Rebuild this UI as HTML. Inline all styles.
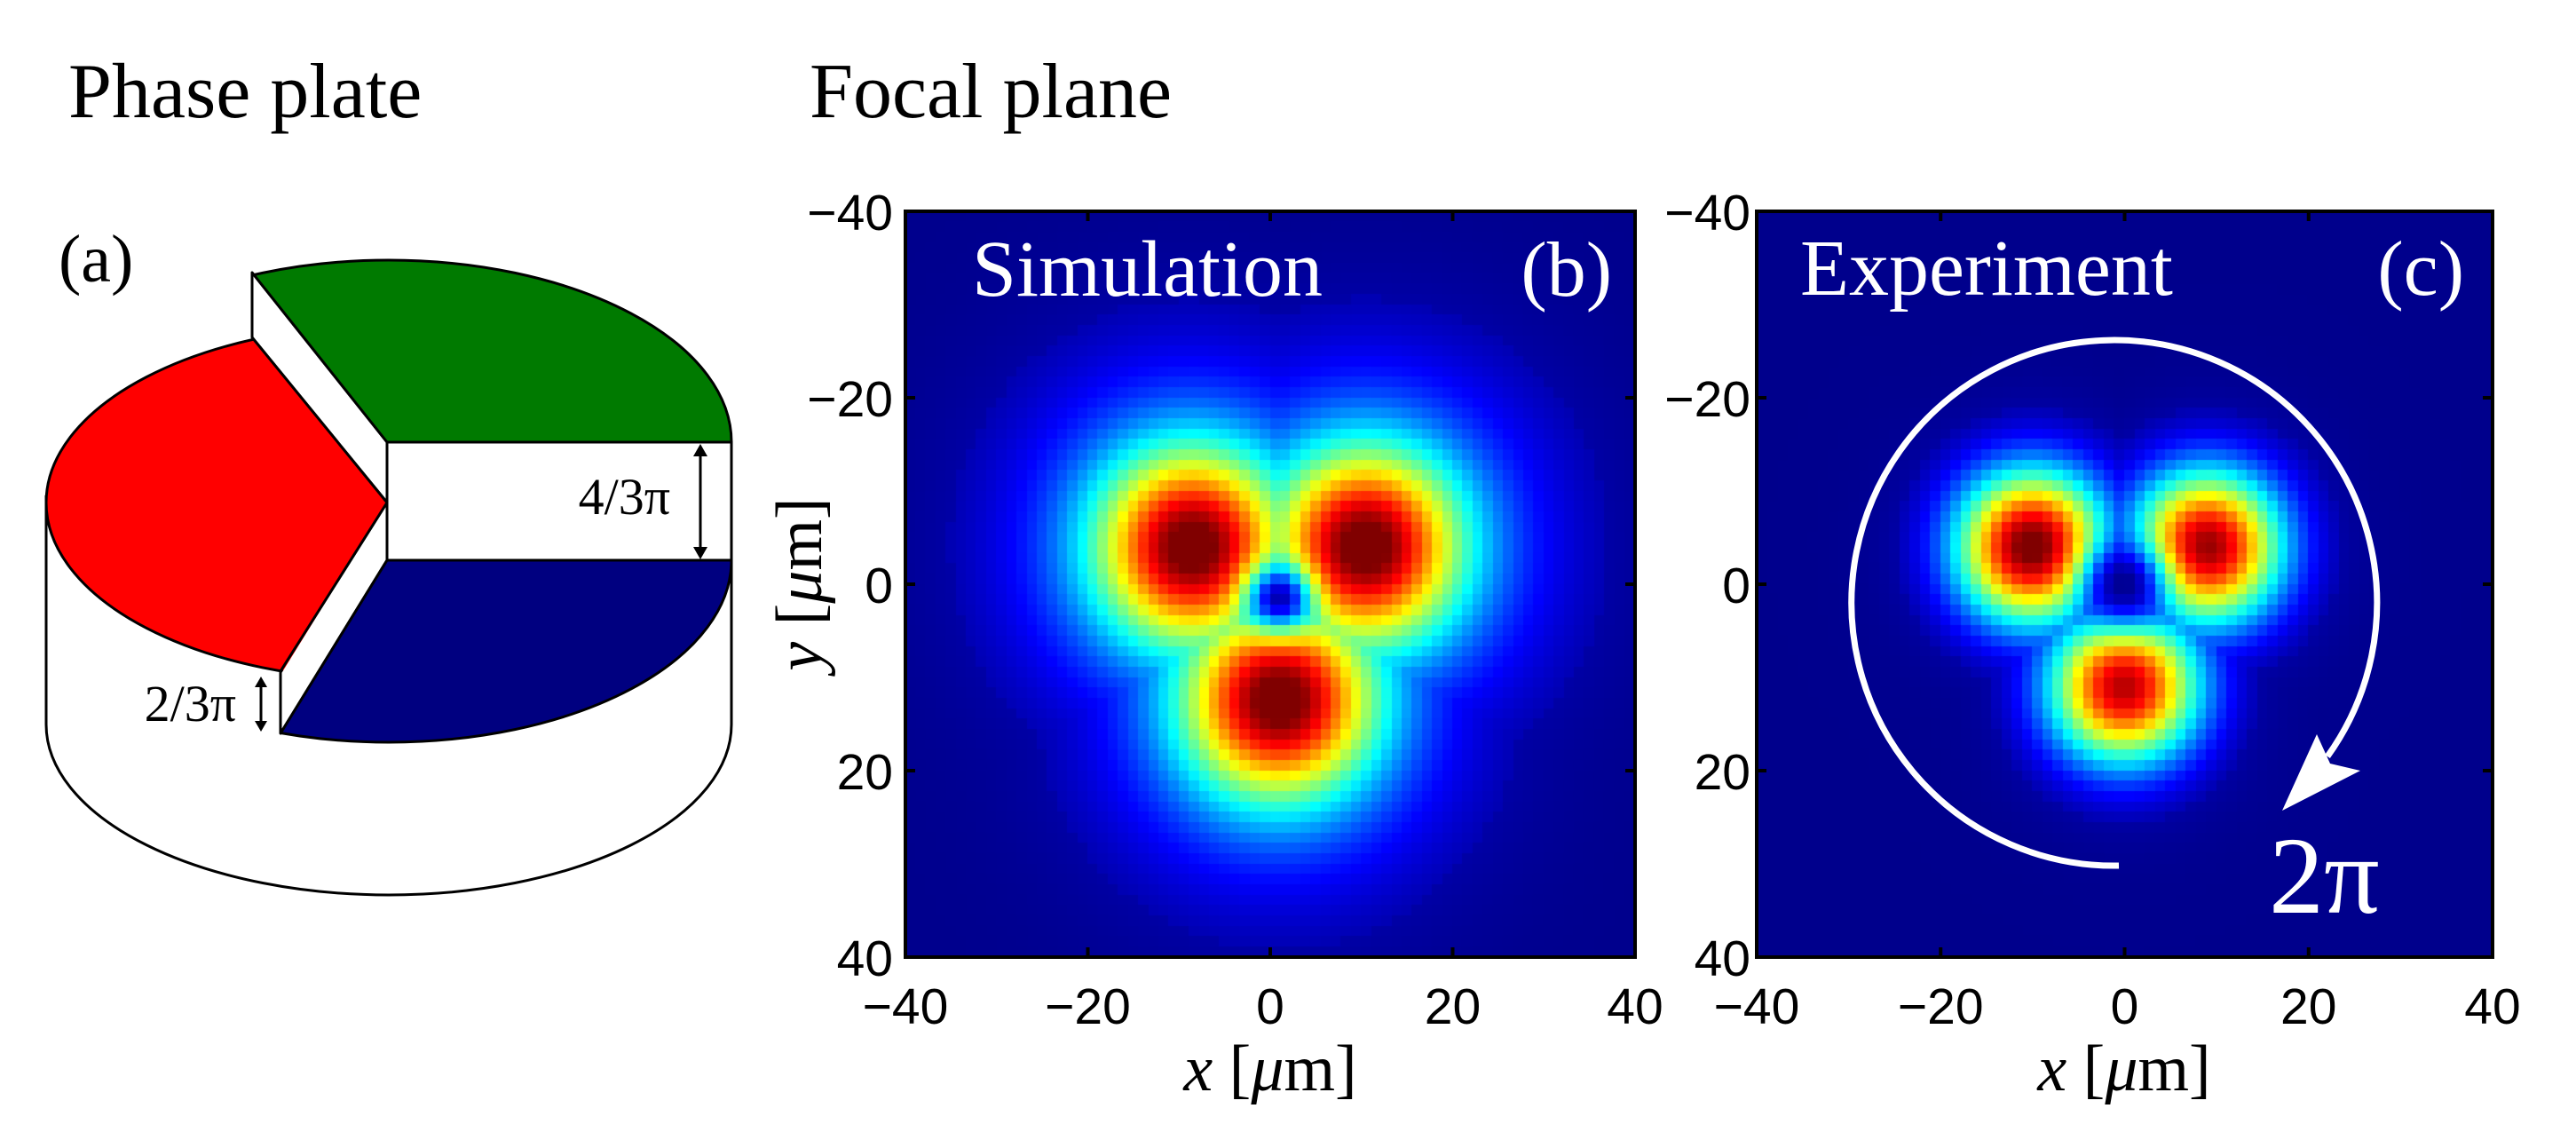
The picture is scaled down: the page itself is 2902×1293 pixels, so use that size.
<!DOCTYPE html>
<html><head><meta charset="utf-8">
<style>
html,body{margin:0;padding:0;background:#fff;}
body{width:2902px;height:1293px;position:relative;overflow:hidden;}
svg{position:absolute;left:0;top:0;}
canvas{position:absolute;}
</style></head>
<body>
<canvas id="simCanvas" width="822" height="840" style="left:1020px;top:238px;"></canvas>
<canvas id="expCanvas" width="829" height="840" style="left:1979px;top:238px;"></canvas>
<svg id="fig" width="2902" height="1293" viewBox="0 0 2902 1293">
  <defs>
    <clipPath id="clipGreen"><polygon points="436,498 900,498 900,0 39,0"/></clipPath>
    <clipPath id="clipRed"><polygon points="436,566 -22,0 -40,0 -40,1100 106,1100"/></clipPath>
    <clipPath id="clipBlue"><polygon points="436,631 900,631 900,1100 148,1100"/></clipPath>
  </defs>
  <text x="77" y="132" font-family="Liberation Serif, serif" font-size="88" fill="#000">Phase plate</text>
  <text x="912" y="132" font-family="Liberation Serif, serif" font-size="88" fill="#000">Focal plane</text>
  <text x="66" y="317" font-family="Liberation Serif, serif" font-size="76" fill="#000">(a)</text>

  <g stroke="#000" stroke-width="3" stroke-linejoin="round">
    <path d="M52,558 L52,816 A386,192 0 0 0 824,816 L824,631 Z" fill="#fff" stroke="none"/>
    <path d="M52,558 L52,816 A386,192 0 0 0 824,816 L824,631" fill="none"/>
    <path d="M284,307 L436,498 L436,566 L284,380 Z" fill="#fff"/>
    <path d="M436,566 L436,631 L316,826 L316,756 Z" fill="#fff"/>
    <rect x="436" y="498" width="388" height="133" fill="#fff"/>
    <ellipse cx="438" cy="498" rx="386" ry="205" fill="#007a00" clip-path="url(#clipGreen)"/>
    <path d="M436,498 L824,498 M436,498 L284,307" fill="none"/>
    <ellipse cx="438" cy="566" rx="386" ry="200" fill="#ff0000" clip-path="url(#clipRed)"/>
    <path d="M284,380 L436,566 L316,756" fill="none"/>
    <ellipse cx="438" cy="631" rx="386" ry="205" fill="#000080" clip-path="url(#clipBlue)"/>
    <path d="M824,631 L436,631 L316,826" fill="none"/>
  </g>
  <g>
    <line x1="789" y1="508" x2="789" y2="622" stroke="#000" stroke-width="3"/>
    <path d="M781,514 L789,500 L797,514 Z M781,616 L789,630 L797,616 Z" fill="#000"/>
    <text x="755" y="579" text-anchor="end" font-family="Liberation Serif, serif" font-size="58" fill="#000">4/3π</text>
  </g>
  <g>
    <line x1="294" y1="768" x2="294" y2="818" stroke="#000" stroke-width="3"/>
    <path d="M287,774 L294,762 L301,774 Z M287,812 L294,824 L301,812 Z" fill="#000"/>
    <text x="266" y="812" text-anchor="end" font-family="Liberation Serif, serif" font-size="58" fill="#000">2/3π</text>
  </g>

  <g id="axesB"></g>
  <g id="axesC"></g>

  <text x="1095" y="333" font-family="Liberation Serif, serif" font-size="90" fill="#fff">Simulation</text>
  <text x="1816" y="333" text-anchor="end" font-family="Liberation Serif, serif" font-size="88" fill="#fff">(b)</text>
  <text x="2028" y="332" font-family="Liberation Serif, serif" font-size="90" fill="#fff">Experiment</text>
  <text x="2776" y="332" text-anchor="end" font-family="Liberation Serif, serif" font-size="88" fill="#fff">(c)</text>

  <g>
    <path d="M2387,975 A296,296 0 1 1 2622,852" fill="none" stroke="#fff" stroke-width="7"/>
    <path d="M2571,913 L2610,827 L2625,860 L2659,868 Z" fill="#fff"/>
  </g>
  <text x="2556" y="1028" font-family="Liberation Serif, serif" font-size="124" fill="#fff">2π</text>

  <text x="1431" y="1228" text-anchor="middle" font-family="Liberation Serif, serif" font-size="74" fill="#000"><tspan font-style="italic">x</tspan> [<tspan font-style="italic">μ</tspan>m]</text>
  <text x="2393" y="1228" text-anchor="middle" font-family="Liberation Serif, serif" font-size="74" fill="#000"><tspan font-style="italic">x</tspan> [<tspan font-style="italic">μ</tspan>m]</text>
  <text transform="translate(925,658) rotate(-90)" text-anchor="middle" font-family="Liberation Serif, serif" font-size="74" fill="#000"><tspan font-style="italic">y</tspan> [<tspan font-style="italic">μ</tspan>m]</text>
</svg>
<script>
// ---- data ----
const xTicks = [-40, -20, 0, 20, 40];
const yTicks = [-40, -20, 0, 20, 40];
const tickLabels = ["\u221240", "\u221220", "0", "20", "40"];
// simulation lobes (µm, y increases downward) and peak intensities
const simLobeX = [-8.5, 10.5, 1];
const simLobeY = [-4, -4, 12.5];
const simLobeAmp = [1.0, 1.0, 1.0];
const simHole = [1, 1.5];
// experiment lobes
const expLobeX = [-10, 9, 0];
const expLobeY = [-4, -4, 11];
const expLobeAmp = [1.0, 0.95, 0.92];
const expHole = [0, 0];
const gridN = 72;

const NS = "http://www.w3.org/2000/svg";
function jet(v){
  v = Math.max(0, Math.min(1, v));
  function c(x){return Math.max(0, Math.min(1, x));}
  let r = c(1.5 - Math.abs(4*v - 3));
  let g = c(1.5 - Math.abs(4*v - 2));
  let b = c(1.5 - Math.abs(4*v - 1));
  if (v < 0.05) { b = 0.55 + v*2; }
  return "rgb(" + Math.round(r*255) + "," + Math.round(g*255) + "," + Math.round(b*255) + ")";
}
function simField(x, y){
  let m = 0;
  for (let i = 0; i < simLobeX.length; i++){
    const r2 = (x-simLobeX[i])**2 + (y-simLobeY[i])**2;
    const v = simLobeAmp[i]*(0.75*Math.exp(-r2/(2*49)) + 0.3*Math.exp(-r2/(2*196)));
    m = Math.max(m, v);
  }
  const h2 = (x-simHole[0])**2 + (y-simHole[1])**2;
  return m*(1 - 0.9*Math.exp(-h2/(2*2.4*2.4)));
}
function expField(x, y){
  let m = 0;
  for (let i = 0; i < expLobeX.length; i++){
    const r2 = (x-expLobeX[i])**2 + (y-expLobeY[i])**2;
    const v = expLobeAmp[i]*(0.95*Math.exp(-r2/(2*5.6*5.6)) + 0.08*Math.exp(-r2/(2*81)));
    m = Math.max(m, v);
  }
  const h2 = (x-expHole[0])**2 + (y-expHole[1])**2;
  return m*(1 - 0.95*Math.exp(-h2/(2*3*3)));
}
function drawHeat(canvas, field){
  const ctx = canvas.getContext("2d");
  const W = canvas.width, H = canvas.height;
  const sx = v => (v + 40) / 80 * W;
  const sy = v => (v + 40) / 80 * H;
  const step = 80 / gridN;
  for (let i = 0; i < gridN; i++){
    for (let j = 0; j < gridN; j++){
      const x = -40 + (i + 0.5) * step, y = -40 + (j + 0.5) * step;
      ctx.fillStyle = jet(field(x, y));
      const x0 = Math.floor(sx(-40 + i*step)), y0 = Math.floor(sy(-40 + j*step));
      ctx.fillRect(x0, y0, Math.ceil(sx(-40+(i+1)*step)) - x0 + 1, Math.ceil(sy(-40+(j+1)*step)) - y0 + 1);
    }
  }
}
drawHeat(document.getElementById("simCanvas"), simField);
drawHeat(document.getElementById("expCanvas"), expField);

function drawAxes(g, L, T, R, B, yLabelsRight){
  const sx = v => L + (v + 40) / 80 * (R - L);
  const sy = v => T + (v + 40) / 80 * (B - T);
  const frame = document.createElementNS(NS, "rect");
  frame.setAttribute("x", L); frame.setAttribute("y", T);
  frame.setAttribute("width", R - L); frame.setAttribute("height", B - T);
  frame.setAttribute("fill", "none"); frame.setAttribute("stroke", "#000"); frame.setAttribute("stroke-width", "4");
  
  
  g.appendChild(frame);
  xTicks.forEach((t, k) => {
    const x = sx(t);
    if (t > -40 && t < 40){
      const tk = document.createElementNS(NS, "path");
      tk.setAttribute("d", "M"+x+","+B+" v-11 M"+x+","+T+" v11");
      tk.setAttribute("stroke", "#000"); tk.setAttribute("stroke-width", "4");
      
      
      g.appendChild(tk);
    }
    const lb = document.createElementNS(NS, "text");
    lb.setAttribute("x", x); lb.setAttribute("y", 1153);
    lb.setAttribute("text-anchor", "middle");
    lb.setAttribute("font-family", "Liberation Sans, sans-serif");
    lb.setAttribute("font-size", "57");
    lb.textContent = tickLabels[k];
    
    
    g.appendChild(lb);
  });
  yTicks.forEach((t, k) => {
    const y = sy(t);
    if (t > -40 && t < 40){
      const tk = document.createElementNS(NS, "path");
      tk.setAttribute("d", "M"+L+","+y+" h11 M"+R+","+y+" h-11");
      tk.setAttribute("stroke", "#000"); tk.setAttribute("stroke-width", "4");
      
      
      g.appendChild(tk);
    }
    const lb = document.createElementNS(NS, "text");
    lb.setAttribute("x", yLabelsRight); lb.setAttribute("y", y + 21);
    lb.setAttribute("text-anchor", "end");
    lb.setAttribute("font-family", "Liberation Sans, sans-serif");
    lb.setAttribute("font-size", "57");
    lb.textContent = tickLabels[k];
    
    
    g.appendChild(lb);
  });
}
drawAxes(document.getElementById("axesB"), 1020, 238, 1842, 1078, 1006);
drawAxes(document.getElementById("axesC"), 1979, 238, 2808, 1078, 1972);
</script>
</body></html>
